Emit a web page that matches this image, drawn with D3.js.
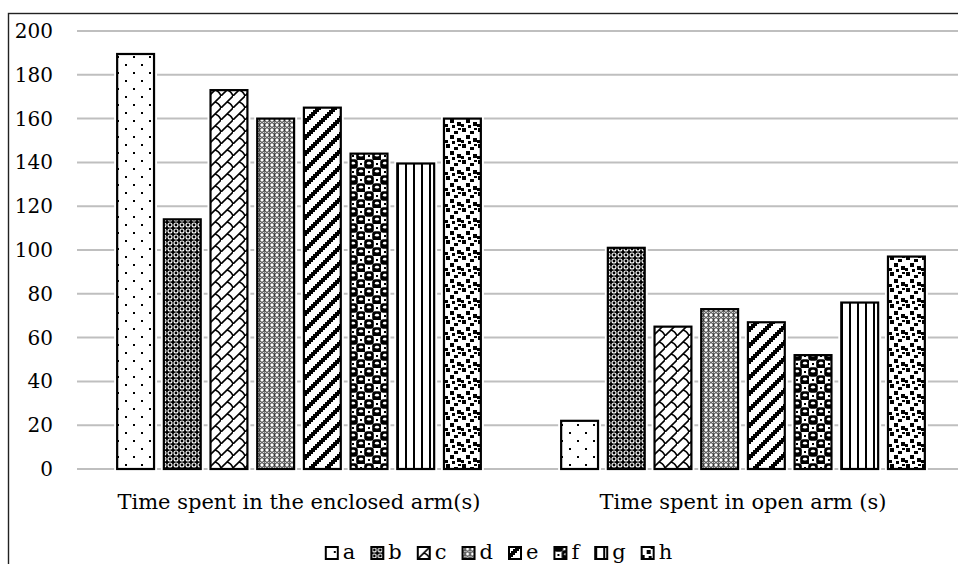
<!DOCTYPE html>
<html>
<head>
<meta charset="utf-8">
<script src="https://cdn.jsdelivr.net/npm/d3@7"></script>
<style>
  html, body { margin: 0; padding: 0; background: #fff; }
  svg { display: block; }
  text { font-family: "DejaVu Serif", "Liberation Serif", serif; fill: #000; }
</style>
</head>
<body>
<svg id="chart" width="958" height="564"></svg>
<script>
// Chart data
const categories = ["Time spent in the enclosed arm(s)", "Time spent in open arm (s)"];
const seriesNames = ["a", "b", "c", "d", "e", "f", "g", "h"];
const enclosedArm = [189.5, 114, 173, 160, 165, 144, 139.5, 160];
const openArm = [22, 101, 65, 73, 67, 52, 76, 97];
const yTicks = [0, 20, 40, 60, 80, 100, 120, 140, 160, 180, 200];

const seriesValues = [enclosedArm, openArm];
const rows = categories.map((c, i) => ({
  category: c,
  values: seriesNames.map((s, j) => ({ series: s, value: seriesValues[i][j] }))
}));

const svg = d3.select("#chart");
const W = 958, H = 564;
const plot = { left: 77, right: 965, top: 31, bottom: 469 };

const x0 = d3.scaleBand().domain(categories).range([plot.left, plot.right]).padding(0);
const x1 = d3.scaleBand().domain(seriesNames).range([0, x0.bandwidth()])
  .paddingInner(0.21).paddingOuter(0.86);
const y = d3.scaleLinear().domain([0, 200]).range([plot.bottom, plot.top]);

// ---- fill patterns ----
const defs = svg.append("defs");
function bitmapPattern(id, bits, scale) {
  const n = bits.length;
  const p = defs.append("pattern").attr("id", id).attr("patternUnits", "userSpaceOnUse")
    .attr("width", n * scale).attr("height", n * scale);
  p.append("rect").attr("width", n * scale).attr("height", n * scale).attr("fill", "#fff");
  bits.forEach((row, r) => {
    row.split("").forEach((b, c) => {
      if (b === "1") p.append("rect").attr("x", c * scale).attr("y", r * scale)
        .attr("width", scale).attr("height", scale).attr("fill", "#000");
    });
  });
  return p;
}
function customPattern(id, w, h, bg) {
  const p = defs.append("pattern").attr("id", id).attr("patternUnits", "userSpaceOnUse")
    .attr("width", w).attr("height", h);
  p.append("rect").attr("width", w).attr("height", h).attr("fill", bg);
  return p;
}

// a: sparse dots
bitmapPattern("pat-a", [
  "10000000", "00000000", "00000000", "00000000",
  "00001000", "00000000", "00000000", "00000000"], 2);

// b: white rings on black
{
  const p = customPattern("pat-b", 6, 6, "#000");
  p.append("circle").attr("cx", 3).attr("cy", 3).attr("r", 2)
    .attr("fill", "none").attr("stroke", "#fff").attr("stroke-width", 1.1);
}

// c: shingle – rising diagonals joined by short curved hooks
{
  const p = customPattern("pat-c", 12, 12, "#fff");
  p.append("path").attr("d", "M-1,13 L13,-1").attr("stroke", "#000").attr("stroke-width", 1.6).attr("fill", "none");
  p.append("path").attr("d", "M6,6 Q10,7 12,12").attr("stroke", "#000").attr("stroke-width", 1.6).attr("fill", "none");
  p.append("path").attr("d", "M-6,6 Q-2,7 0,12").attr("stroke", "#000").attr("stroke-width", 1.6).attr("fill", "none");
}

// d: black rings on white
{
  const p = customPattern("pat-d", 5, 5, "#fff");
  p.append("circle").attr("cx", 2.5).attr("cy", 2.5).attr("r", 1.8)
    .attr("fill", "none").attr("stroke", "#000").attr("stroke-width", 0.9);
  p.append("rect").attr("x", 2).attr("y", 0).attr("width", 1).attr("height", 5).attr("fill", "#000").attr("opacity", 0.5);
}

// e: wide upward diagonal
bitmapPattern("pat-e", [
  "00000111", "00001110", "00011100", "00111000",
  "01110000", "11100000", "11000001", "10000011"], 2);

// f: spheres on a checkerboard
{
  const p = customPattern("pat-f", 16, 16, "#fff");
  [[0, 0], [8, 8], [16, 16], [16, 0], [0, 16]].forEach(([cx, cy]) => {
    p.append("rect").attr("x", cx - 0.8).attr("y", cy - 0.8).attr("width", 9.6).attr("height", 9.6)
      .attr("rx", 3).attr("fill", "#000");
    p.append("ellipse").attr("cx", cx + 4).attr("cy", cy + 3.2).attr("rx", 2.1).attr("ry", 1.4).attr("fill", "#fff");
  });
  [[8, 0], [0, 8]].forEach(([cx, cy]) => {
    p.append("rect").attr("x", cx + 3).attr("y", cy + 3).attr("width", 2).attr("height", 2).attr("fill", "#000");
  });
}

// g: light vertical lines
bitmapPattern("pat-g", ["1000", "1000", "1000", "1000"], 2);

// h: large confetti
{
  const p = customPattern("pat-h", 16, 16, "#fff");
  [[1, 0, 4, 4], [9, 3, 4, 3], [5, 7, 4, 4], [12, 10, 4, 4], [0, 12, 3, 3], [7, 13, 3, 3], [13, 0, 3, 2]].forEach(([rx, ry, w, h]) => {
    p.append("rect").attr("x", rx).attr("y", ry).attr("width", w).attr("height", h).attr("fill", "#000");
  });
}

// ---- chart frame ----
svg.append("rect").attr("x", 8.5).attr("y", 13.5).attr("width", W + 40).attr("height", H + 40)
  .attr("fill", "#fff").attr("stroke", "#222").attr("stroke-width", 1.4);

// ---- gridlines ----
svg.append("g").selectAll("line").data(yTicks).join("line")
  .attr("x1", plot.left).attr("x2", plot.right)
  .attr("y1", d => y(d)).attr("y2", d => y(d))
  .attr("stroke", "#bfbfbf").attr("stroke-width", 2);

// ---- y axis labels ----
const yAxis = d3.axisLeft(y).tickValues(yTicks).tickSize(0).tickPadding(0).tickFormat(d3.format("d"));
const yg = svg.append("g").attr("transform", `translate(53,0)`).call(yAxis);
yg.select(".domain").remove();
yg.selectAll("text").attr("font-size", 20).attr("font-family", "DejaVu Serif").attr("fill", "#000");

// ---- bars ----
const groups = svg.append("g").selectAll("g").data(rows).join("g")
  .attr("transform", d => `translate(${x0(d.category)},0)`);

groups.selectAll("rect.halo").data(d => d.values).join("rect").attr("class", "halo")
  .attr("x", d => x1(d.series)).attr("y", d => y(d.value))
  .attr("width", x1.bandwidth()).attr("height", d => y(0) - y(d.value))
  .attr("fill", "#fff").attr("stroke", "#fff").attr("stroke-width", 6);

groups.selectAll("rect.bar").data(d => d.values).join("rect").attr("class", "bar")
  .attr("x", d => x1(d.series)).attr("y", d => y(d.value))
  .attr("width", x1.bandwidth()).attr("height", d => y(0) - y(d.value))
  .attr("fill", d => `url(#pat-${d.series})`)
  .attr("stroke", "#000").attr("stroke-width", 2.2);

// ---- category labels ----
svg.append("g").selectAll("text").data(categories).join("text")
  .attr("x", d => x0(d) + x0.bandwidth() / 2).attr("y", 509)
  .attr("text-anchor", "middle").attr("font-size", 21)
  .text(d => d);

// ---- legend ----
const legend = svg.append("g");
const items = legend.selectAll("g").data(seriesNames).join("g");
items.append("rect").attr("x", 0).attr("y", -12).attr("width", 12).attr("height", 12)
  .attr("fill", d => `url(#pat-${d})`).attr("stroke", "#000").attr("stroke-width", 2);
items.append("text").attr("x", 17).attr("y", 0).attr("font-size", 21).text(d => d);
let cx = 0;
items.each(function () {
  d3.select(this).attr("transform", `translate(${cx},0)`);
  cx += 17 + d3.select(this).select("text").node().getComputedTextLength() + 16;
});
const legendWidth = cx - 16;
legend.attr("transform", `translate(${499 - legendWidth / 2},559)`);
</script>
</body>
</html>
